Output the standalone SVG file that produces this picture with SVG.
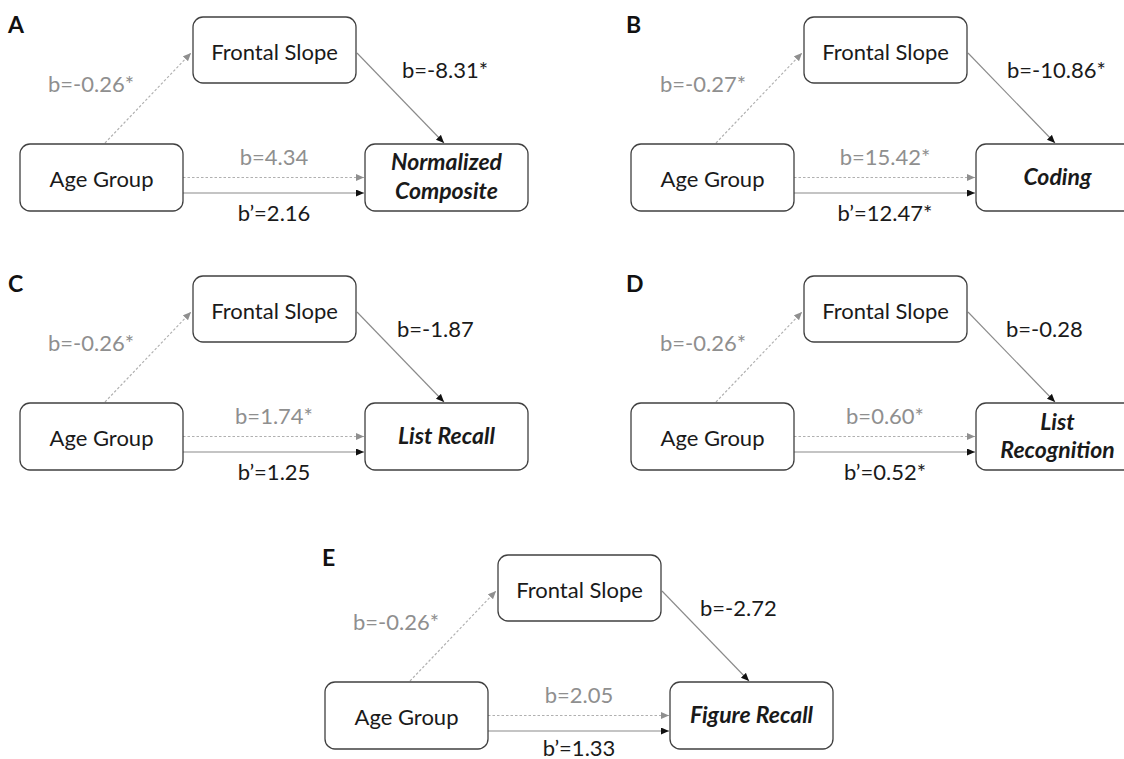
<svg xmlns="http://www.w3.org/2000/svg" width="1124" height="759" viewBox="0 0 1124 759">
<style>
.box{fill:#fff;stroke:#404040;stroke-width:1.3}
.t{font-family:Lato,"Liberation Sans",sans-serif;font-size:22px;fill:#1a1a1a}
.c{text-anchor:middle}
.g{fill:#8f8f8f}
.o{font-weight:bold;font-style:italic;font-size:23px}
.lab{font-family:Lato,"Liberation Sans",sans-serif;font-size:23px;font-weight:bold;fill:#111}
.dot{fill:none;stroke:#b0b0b0;stroke-width:1.2;stroke-dasharray:2.5 2}
.sol{fill:none;stroke:#8a8a8a;stroke-width:1.1}
</style>
<defs>
<marker id="ag" markerUnits="userSpaceOnUse" markerWidth="9" markerHeight="8" refX="8" refY="3.5" orient="auto"><path d="M0,0 L8,3.5 L0,7 z" fill="#8f8f8f"/></marker>
<marker id="ad" markerUnits="userSpaceOnUse" markerWidth="9" markerHeight="8" refX="8" refY="3.5" orient="auto"><path d="M0,0 L8,3.5 L0,7 z" fill="#111"/></marker>
</defs>
<rect width="1124" height="759" fill="#fff"/>

<g id="connectors">
 <g transform="translate(0,0)">
  <path class="dot" d="M105,143 L191,53" marker-end="url(#ag)"/>
  <path class="sol" d="M357,53 L444,143" marker-end="url(#ad)"/>
  <path class="dot" d="M183,177.5 L364,177.5" marker-end="url(#ag)"/>
  <path class="sol" d="M183,193 L364,193" marker-end="url(#ad)"/>
 </g>
 <g transform="translate(611,0)">
  <path class="dot" d="M105,143 L191,53" marker-end="url(#ag)"/>
  <path class="sol" d="M357,53 L444,143" marker-end="url(#ad)"/>
  <path class="dot" d="M183,177.5 L364,177.5" marker-end="url(#ag)"/>
  <path class="sol" d="M183,193 L364,193" marker-end="url(#ad)"/>
 </g>
 <g transform="translate(0,259)">
  <path class="dot" d="M105,143 L191,53" marker-end="url(#ag)"/>
  <path class="sol" d="M357,53 L444,143" marker-end="url(#ad)"/>
  <path class="dot" d="M183,177.5 L364,177.5" marker-end="url(#ag)"/>
  <path class="sol" d="M183,193 L364,193" marker-end="url(#ad)"/>
 </g>
 <g transform="translate(611,259)">
  <path class="dot" d="M105,143 L191,53" marker-end="url(#ag)"/>
  <path class="sol" d="M357,53 L444,143" marker-end="url(#ad)"/>
  <path class="dot" d="M183,177.5 L364,177.5" marker-end="url(#ag)"/>
  <path class="sol" d="M183,193 L364,193" marker-end="url(#ad)"/>
 </g>
 <g transform="translate(305,538)">
  <path class="dot" d="M105,143 L191,53" marker-end="url(#ag)"/>
  <path class="sol" d="M357,53 L444,143" marker-end="url(#ad)"/>
  <path class="dot" d="M183,177.5 L364,177.5" marker-end="url(#ag)"/>
  <path class="sol" d="M183,193 L364,193" marker-end="url(#ad)"/>
 </g>
</g>

<!-- Panel A -->
<g id="panelA">
 <text class="lab" x="8" y="33">A</text>
 <g id="A-frontal"><rect class="box" x="193" y="17" width="163" height="66" rx="10"/><text class="t c" x="274.5" y="60">Frontal Slope</text></g>
 <g id="A-age"><rect class="box" x="20" y="144" width="163" height="67" rx="10"/><text class="t c" x="101.5" y="187">Age Group</text></g>
 <g id="A-outcome"><rect class="box" x="365" y="144" width="163" height="67" rx="10"/><text class="t c o" x="446.5" y="170">Normalized</text><text class="t c o" x="446.5" y="199">Composite</text></g>
 <text class="t g" x="48" y="92">b=-0.26*</text>
 <text class="t" x="402" y="78">b=-8.31*</text>
 <text class="t g c" x="274" y="165">b=4.34</text>
 <text class="t c" x="274" y="221">b’=2.16</text>
</g>

<!-- Panel B -->
<g id="panelB">
 <text class="lab" x="626" y="33">B</text>
 <g id="B-frontal"><rect class="box" x="804" y="17" width="163" height="66" rx="10"/><text class="t c" x="885.5" y="60">Frontal Slope</text></g>
 <g id="B-age"><rect class="box" x="631" y="144" width="163" height="67" rx="10"/><text class="t c" x="712.5" y="187">Age Group</text></g>
 <g id="B-outcome"><rect class="box" x="976" y="144" width="163" height="67" rx="10"/><text class="t c o" x="1057.5" y="185">Coding</text></g>
 <text class="t g" x="660" y="92">b=-0.27*</text>
 <text class="t" x="1007" y="78">b=-10.86*</text>
 <text class="t g c" x="885" y="165">b=15.42*</text>
 <text class="t c" x="885" y="221">b’=12.47*</text>
</g>

<!-- Panel C -->
<g id="panelC">
 <text class="lab" x="8" y="292">C</text>
 <g id="C-frontal"><rect class="box" x="193" y="276" width="163" height="66" rx="10"/><text class="t c" x="274.5" y="319">Frontal Slope</text></g>
 <g id="C-age"><rect class="box" x="20" y="403" width="163" height="67" rx="10"/><text class="t c" x="101.5" y="446">Age Group</text></g>
 <g id="C-outcome"><rect class="box" x="365" y="403" width="163" height="67" rx="10"/><text class="t c o" x="446.5" y="444">List Recall</text></g>
 <text class="t g" x="48" y="351">b=-0.26*</text>
 <text class="t" x="397" y="337">b=-1.87</text>
 <text class="t g c" x="274" y="424">b=1.74*</text>
 <text class="t c" x="274" y="480">b’=1.25</text>
</g>

<!-- Panel D -->
<g id="panelD">
 <text class="lab" x="626" y="292">D</text>
 <g id="D-frontal"><rect class="box" x="804" y="276" width="163" height="66" rx="10"/><text class="t c" x="885.5" y="319">Frontal Slope</text></g>
 <g id="D-age"><rect class="box" x="631" y="403" width="163" height="67" rx="10"/><text class="t c" x="712.5" y="446">Age Group</text></g>
 <g id="D-outcome"><rect class="box" x="976" y="403" width="163" height="67" rx="10"/><text class="t c o" x="1057.5" y="430">List</text><text class="t c o" x="1057.5" y="458">Recognition</text></g>
 <text class="t g" x="660" y="351">b=-0.26*</text>
 <text class="t" x="1006" y="337">b=-0.28</text>
 <text class="t g c" x="885" y="424">b=0.60*</text>
 <text class="t c" x="885" y="480">b’=0.52*</text>
</g>

<!-- Panel E -->
<g id="panelE">
 <text class="lab" x="322" y="566">E</text>
 <g id="E-frontal"><rect class="box" x="498" y="555" width="163" height="66" rx="10"/><text class="t c" x="579.5" y="598">Frontal Slope</text></g>
 <g id="E-age"><rect class="box" x="325" y="682" width="163" height="67" rx="10"/><text class="t c" x="406.5" y="725">Age Group</text></g>
 <g id="E-outcome"><rect class="box" x="670" y="682" width="163" height="67" rx="10"/><text class="t c o" x="751.5" y="723">Figure Recall</text></g>
 <text class="t g" x="353" y="630">b=-0.26*</text>
 <text class="t" x="700" y="616">b=-2.72</text>
 <text class="t g c" x="579" y="703">b=2.05</text>
 <text class="t c" x="579" y="756">b’=1.33</text>
</g>
</svg>
